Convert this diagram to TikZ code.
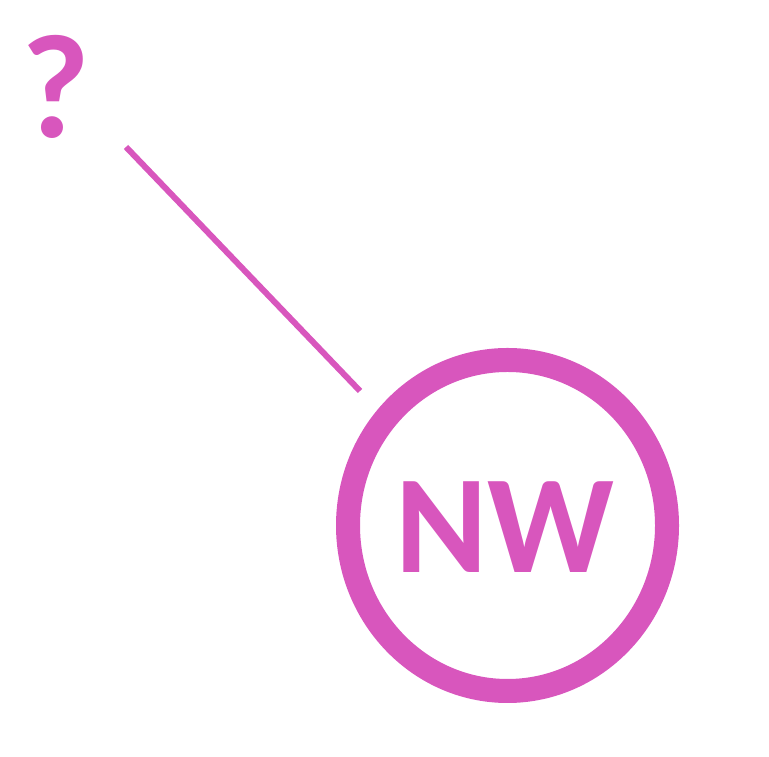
\documentclass[tikz,border=0pt]{standalone}
\usepackage{fontspec}
\setmainfont{Carlito}
\definecolor{orchidpink}{RGB}{216,86,189}
\tikzset{
  ring/.style={draw=orchidpink, line width=6pt},
  bigtext/.style={text=orchidpink, font=\fontsize{35}{35}\selectfont\bfseries},
  qmark/.style={text=orchidpink, font=\fontsize{37}{37}\selectfont\bfseries},
  link/.style={draw=orchidpink, line width=1.5pt}
}
\begin{document}
\begin{tikzpicture}[x=0.25pt,y=0.25pt]
\useasboundingbox (0,0) rectangle (769,757);
\coordinate (c) at (507.5,231.5);
\draw[ring] (c) ellipse [x radius=159.5, y radius=165.5];
\node[bigtext] (lbl) at (505,229.5) {NW};
\node[qmark] (q) at (55.5,670.5) {?};
\coordinate (a) at (126,610);
\coordinate (b) at (360,366);
\draw[link] (a) -- (b);
\end{tikzpicture}
\end{document}
